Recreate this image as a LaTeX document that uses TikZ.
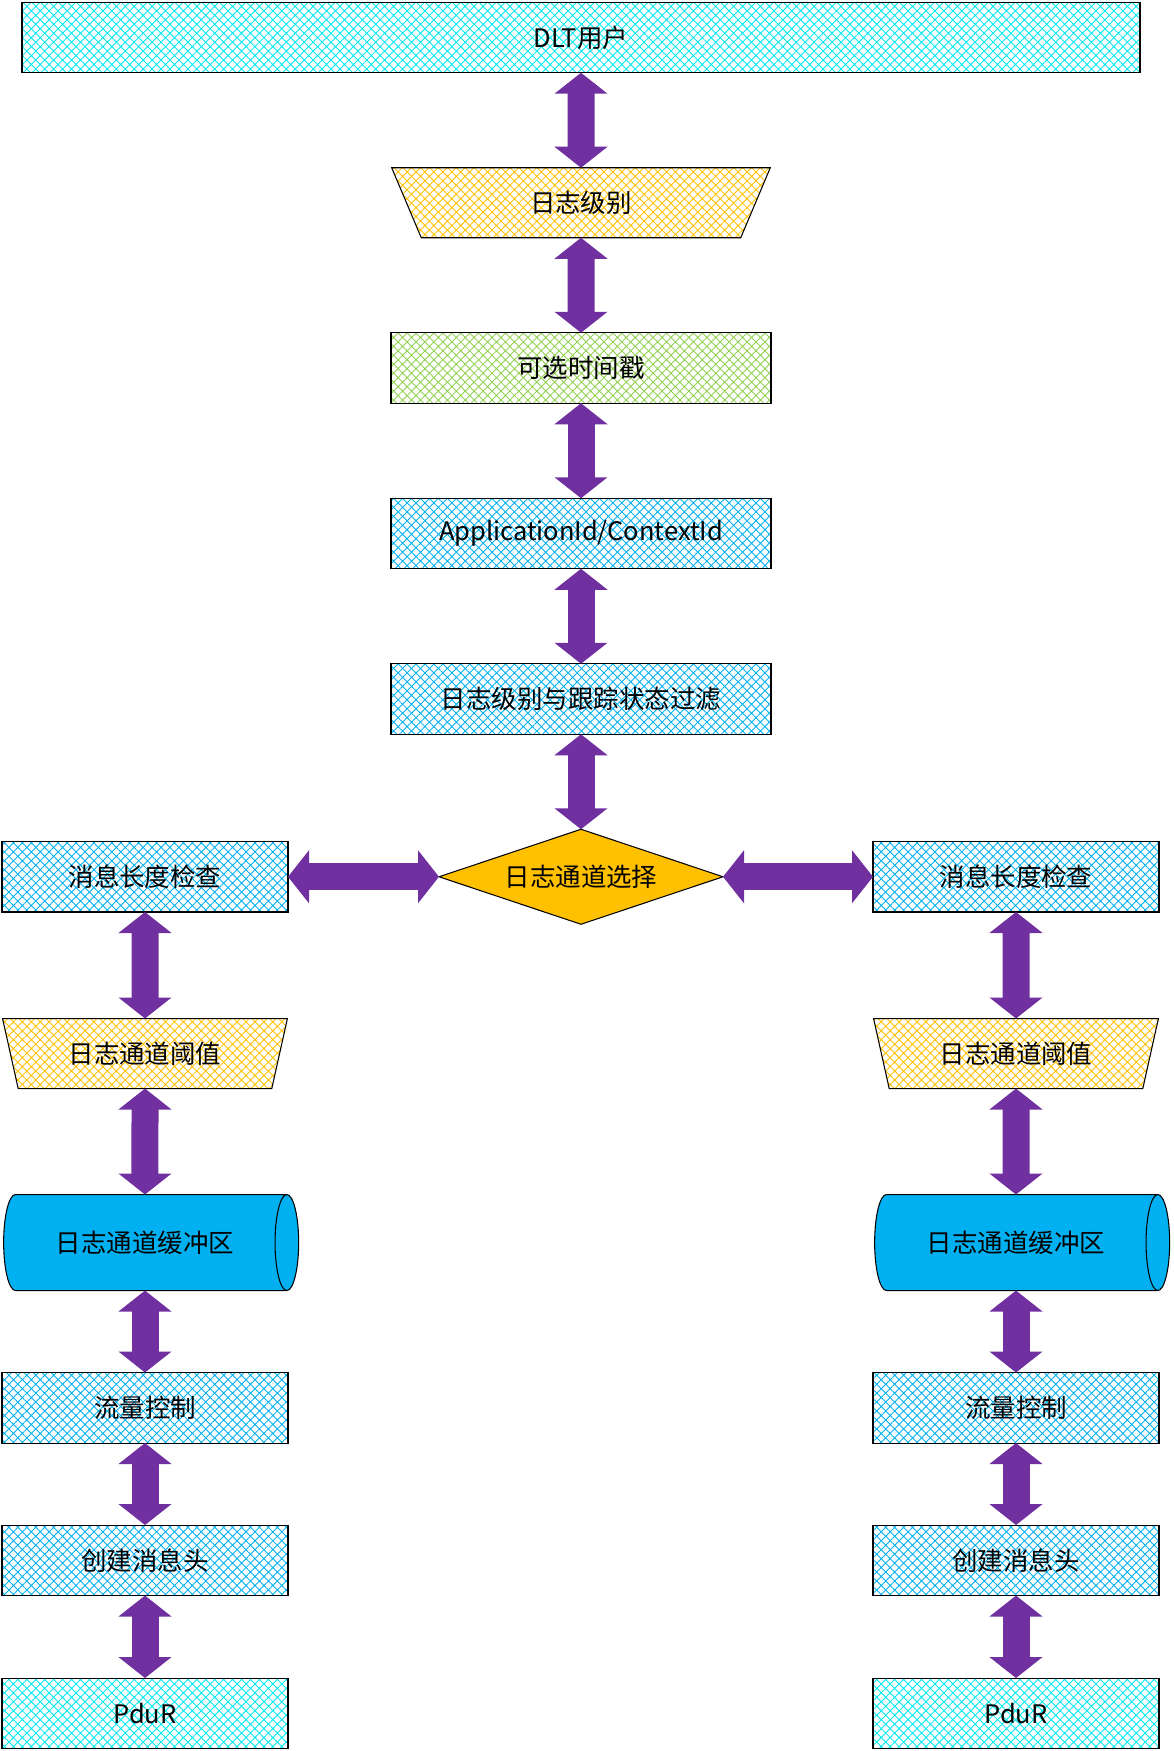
\documentclass[tikz,border=0pt]{standalone}
\usepackage{fontspec}
\setmainfont{Noto Sans CJK SC}
\usepackage{tikz}
\usetikzlibrary{positioning,shapes.geometric,arrows.meta,patterns.meta}
\definecolor{skyhatch}{HTML}{00B0F0}
\definecolor{aquahatch}{HTML}{00E8F0}
\definecolor{goldhatch}{HTML}{FFC000}
\definecolor{greenhatch}{HTML}{92D050}
\definecolor{bufblue}{HTML}{00B0F0}
\definecolor{arrowpurple}{HTML}{7030A0}

\begin{document}
\begin{tikzpicture}[
    font=\fontsize{14.5}{17}\selectfont,
    node distance=1.9cm and 3cm,
    outer sep=0pt,
    hatch/.style={
        pattern={Hatch[angle=45,distance=3.6pt,line width=0.5pt]}
    },
    box/.style={
        draw,
        line width=0.6pt,
        hatch,
        pattern color=skyhatch,
        minimum width=7.6cm,
        minimum height=1.41cm,
        inner sep=0pt,
        align=center
    },
    sidebox/.style={
        box,
        minimum width=5.72cm
    },
    level/.style={
        draw,
        line width=0.6pt,
        trapezium,
        trapezium stretches=true,
        shape border rotate=180,
        trapezium angle=68.2,
        hatch,
        pattern color=goldhatch,
        minimum width=7.6cm,
        minimum height=1.4cm,
        inner sep=0pt
    },
    sidelevel/.style={
        level,
        minimum width=5.72cm
    },
    select/.style={
        draw,
        line width=0.6pt,
        diamond,
        aspect=2.99,
        fill=goldhatch,
        minimum width=5.68cm,
        minimum height=1.9cm,
        inner sep=0pt
    },
    buffer/.style={
        draw,
        line width=0.6pt,
        cylinder,
        aspect=1,
        fill=bufblue,
        minimum width=1.92cm,
        minimum height=5.9cm,
        inner sep=0pt
    },
    dbl/.style={
        draw=arrowpurple,
        line width=0.54cm,
        {Triangle[length=0.42cm,width=1.04cm]}-{Triangle[length=0.42cm,width=1.04cm]}
    }
]
    \useasboundingbox (0,0) rectangle (23.46,-35.02);

    %% 主链
    \node[box, pattern color=aquahatch, minimum width=22.36cm] (user) at (11.62,-0.75) {DLT用户};
    \node[level, below=of user] (lvl) {日志级别};
    \node[box, pattern color=greenhatch, below=of lvl] (stamp) {可选时间戳};
    \node[box, below=of stamp] (appid) {ApplicationId/ContextId};
    \node[box, below=of appid] (filter) {日志级别与跟踪状态过滤};
    \node[select, below=of filter] (chan) {日志通道选择};

    %% 左侧通道
    \node[sidebox, left=3.02cm of chan] (lenL) {消息长度检查};
    \node[sidelevel, below=2.13cm of lenL] (thrL) {日志通道阈值};
    \node[buffer, below=2.12cm of thrL] (bufL) {日志通道缓冲区};
    \node[sidebox, below=1.64cm of bufL] (flowL) {流量控制};
    \node[sidebox, below=1.64cm of flowL] (headL) {创建消息头};
    \node[sidebox, pattern color=aquahatch, below=1.65cm of headL] (pduL) {PduR};

    %% 右侧通道
    \node[sidebox, right=3cm of chan] (lenR) {消息长度检查};
    \node[sidelevel, below=2.13cm of lenR] (thrR) {日志通道阈值};
    \node[buffer, below=2.12cm of thrR] (bufR) {日志通道缓冲区};
    \node[sidebox, below=1.64cm of bufR] (flowR) {流量控制};
    \node[sidebox, below=1.64cm of flowR] (headR) {创建消息头};
    \node[sidebox, pattern color=aquahatch, below=1.65cm of headR] (pduR) {PduR};

    %% 双向箭头
    \draw[dbl] (user) -- (lvl);
    \draw[dbl] (lvl) -- (stamp);
    \draw[dbl] (stamp) -- (appid);
    \draw[dbl] (appid) -- (filter);
    \draw[dbl] (filter) -- (chan);
    \draw[dbl] (lenL) -- (chan);
    \draw[dbl] (chan) -- (lenR);

    \draw[dbl] (lenL) -- (thrL);
    \draw[dbl] (thrL) -- (thrL |- bufL.north);
    \draw[dbl] (bufL.south -| flowL) -- (flowL);
    \draw[dbl] (flowL) -- (headL);
    \draw[dbl] (headL) -- (pduL);

    \draw[dbl] (lenR) -- (thrR);
    \draw[dbl] (thrR) -- (thrR |- bufR.north);
    \draw[dbl] (bufR.south -| flowR) -- (flowR);
    \draw[dbl] (flowR) -- (headR);
    \draw[dbl] (headR) -- (pduR);
\end{tikzpicture}
\end{document}
